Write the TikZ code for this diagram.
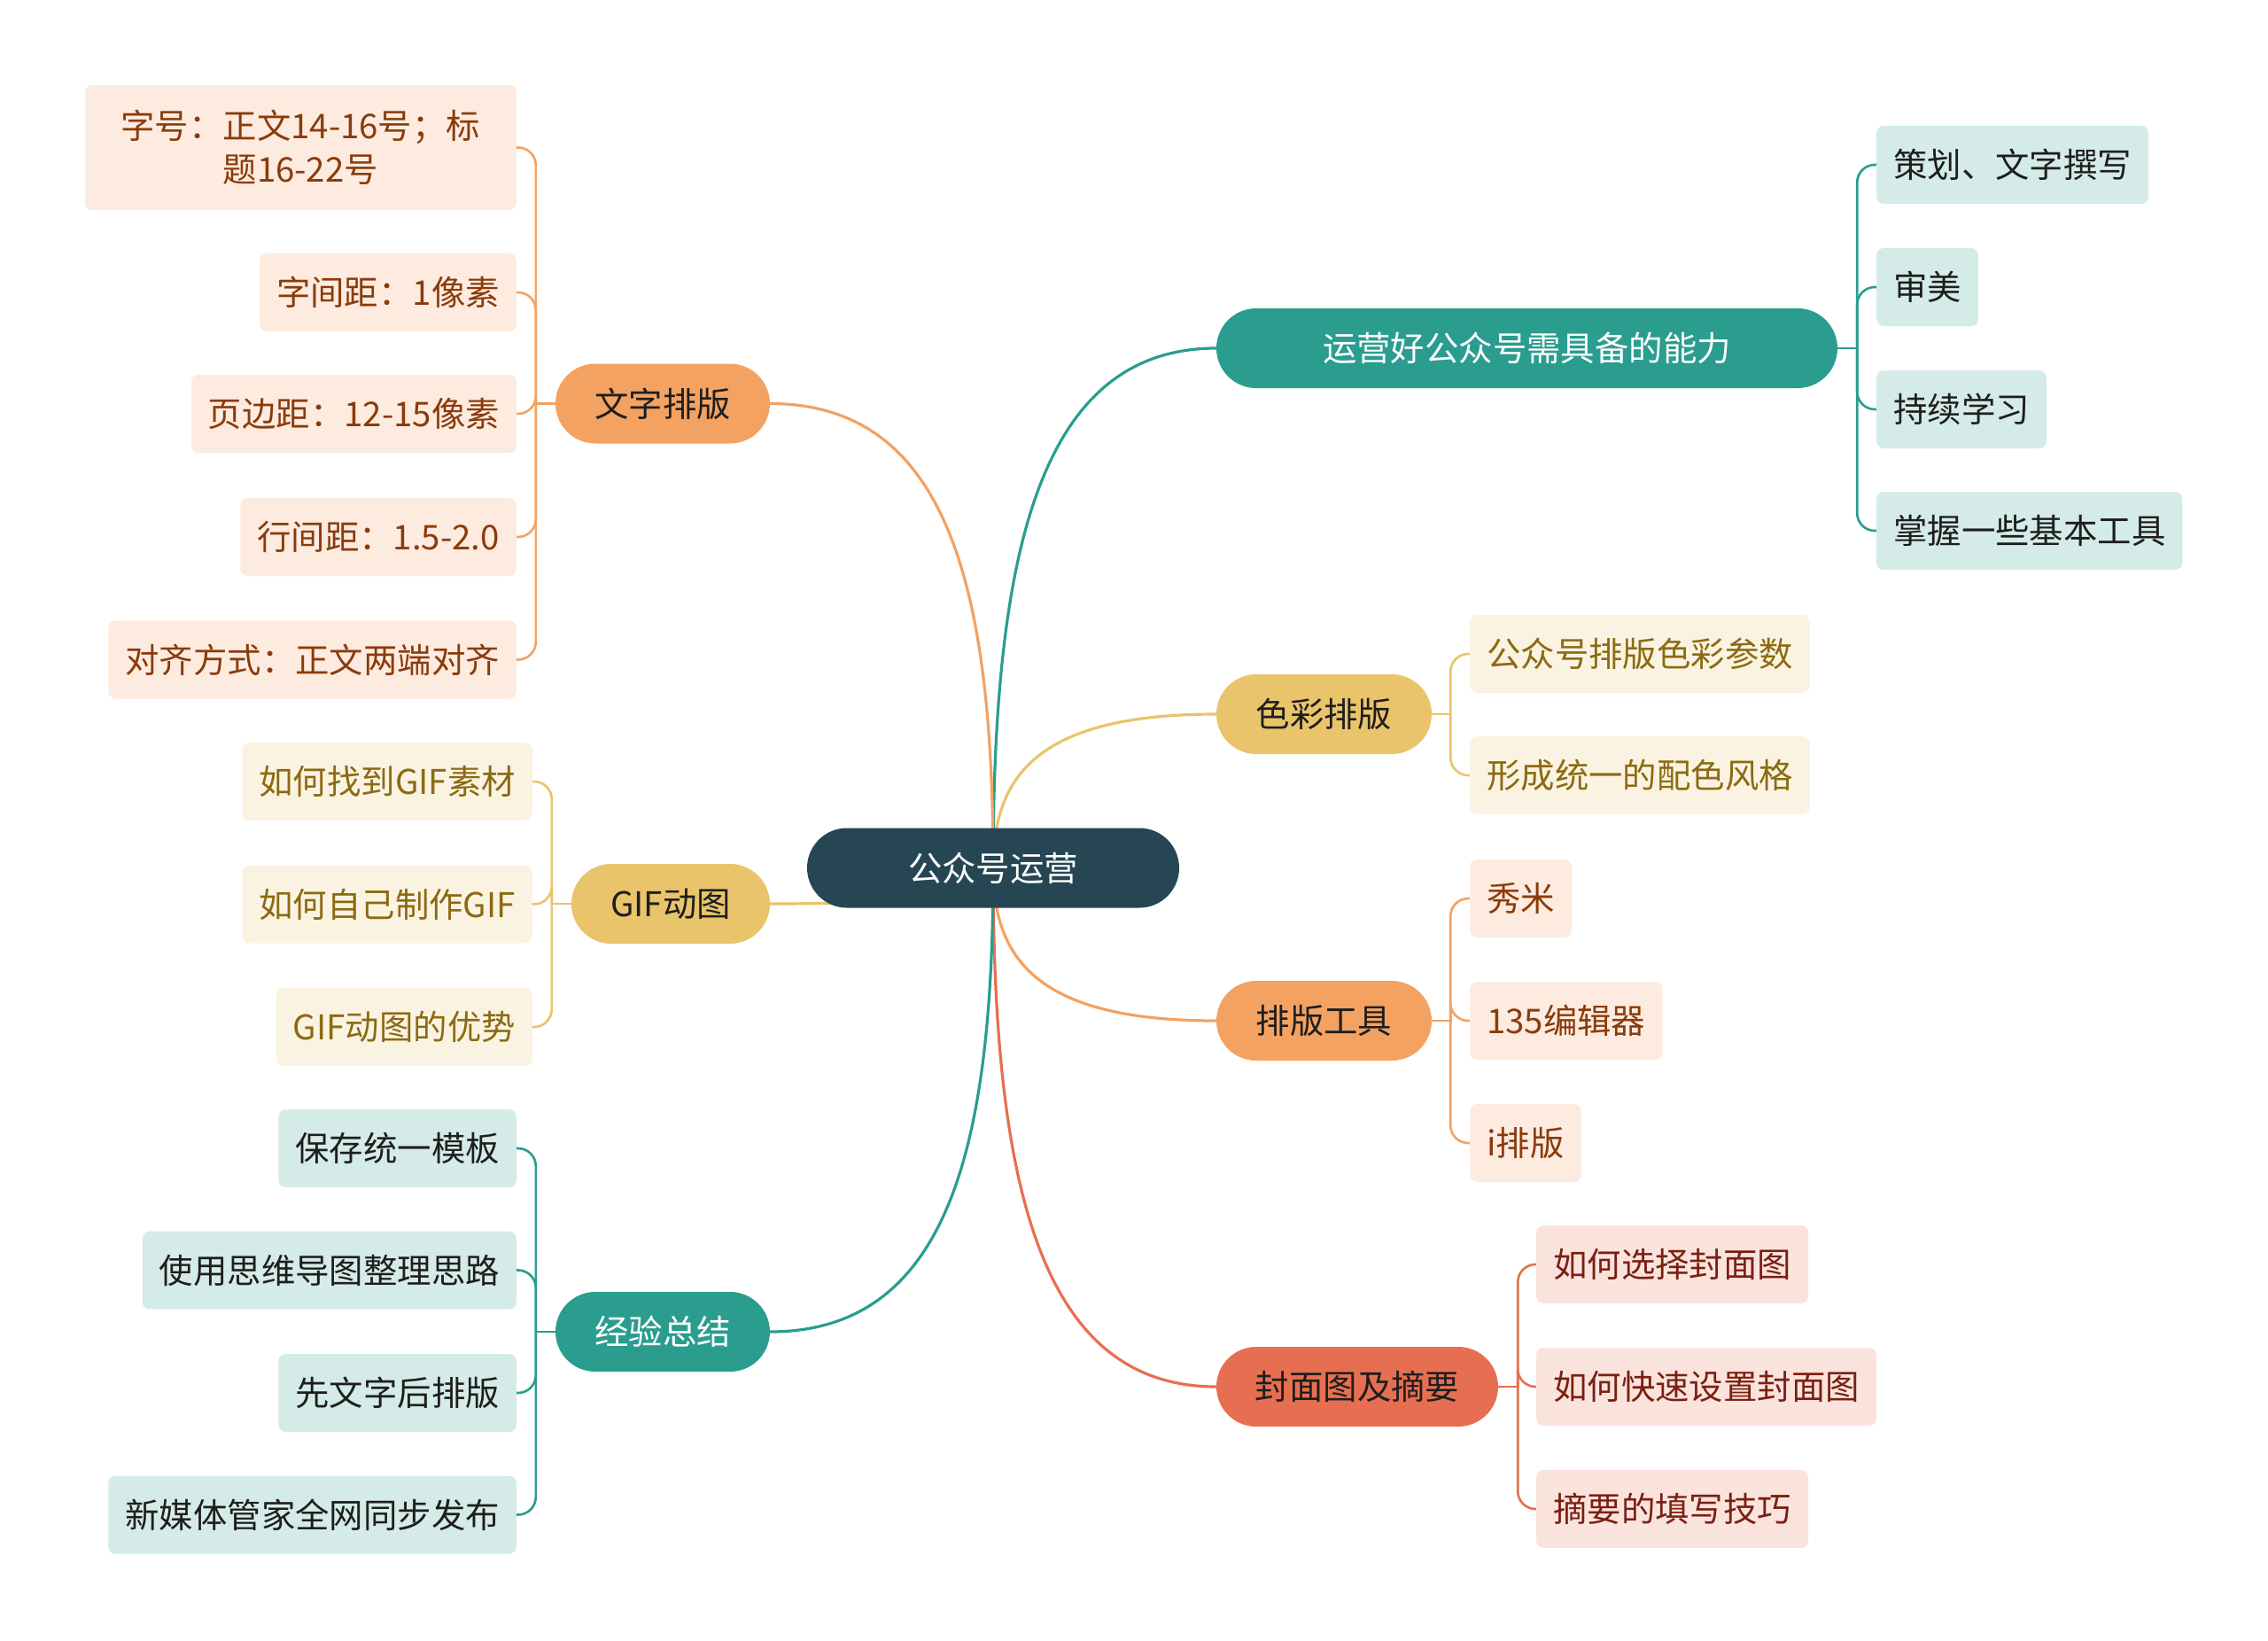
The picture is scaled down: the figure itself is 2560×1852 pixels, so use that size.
\documentclass[tikz,border=0pt]{standalone}
\usepackage{fontspec}
\setmainfont{Noto Sans CJK SC}
\usetikzlibrary{calc}
\definecolor{rootc}{HTML}{264653}
\definecolor{tealc}{HTML}{2A9D8F}
\definecolor{teall}{HTML}{D5EBE7}
\definecolor{orc}{HTML}{F4A261}
\definecolor{orl}{HTML}{FDEBDF}
\definecolor{ort}{HTML}{8A3B0C}
\definecolor{yec}{HTML}{E9C46A}
\definecolor{yel}{HTML}{FBF3E1}
\definecolor{yet}{HTML}{8B6A12}
\definecolor{rec}{HTML}{E76F51}
\definecolor{rel}{HTML}{FAE3DD}
\definecolor{ret}{HTML}{7B1F12}
\definecolor{darkt}{HTML}{1E1E1E}
\pgfdeclarelayer{back}
\pgfdeclarelayer{bg}
\pgfsetlayers{back,bg,main}
\tikzset{
  base/.style={font=\fontsize{38.4}{49}\selectfont, inner ysep=0pt, align=center},
  leaf/.style={base, rounded corners=8pt, inner xsep=19pt, minimum height=88pt},
  branch/.style={base, rounded corners=45pt, inner xsep=0pt, minimum height=90pt},
  mainlink/.style={line width=3.2pt},
  leaflink/.style={line width=2.6pt, rounded corners=20pt},
}
\begin{document}
\begin{tikzpicture}[x=1pt,y=-1pt]
\begin{pgfonlayer}{back}
\fill[white] (0,0) rectangle (2560,1852);
\end{pgfonlayer}
\useasboundingbox (0,0) rectangle (2560,1852);

% root
\node[branch, fill=rootc, text=white, minimum width=420pt] (root) at (1121,979.5) {公众号运营};

% left branches
\node[branch, fill=orc, text=darkt, minimum width=242pt] (wz) at (748,455.5) {文字排版};
\node[branch, fill=yec, text=darkt, minimum width=224pt] (gif) at (757,1020) {GIF动图};
\node[branch, fill=tealc, text=white, minimum width=242pt] (jy) at (748,1503) {经验总结};

% right branches
\node[branch, fill=tealc, text=white, minimum width=701pt] (nl) at (1723.5,393) {运营好公众号需具备的能力};
\node[branch, fill=yec, text=darkt, minimum width=243pt] (sc) at (1494.5,806) {色彩排版};
\node[branch, fill=orc, text=darkt, minimum width=243pt] (gj) at (1494.5,1152) {排版工具};
\node[branch, fill=rec, text=darkt, minimum width=318pt] (fm) at (1532,1565) {封面图及摘要};

% leaves: 文字排版
\node[leaf, fill=orl, text=ort, anchor=east, minimum height=141pt, minimum width=487pt] (wz1) at (583,166.5) {字号：正文14-16号；标\\题16-22号};
\node[leaf, fill=orl, text=ort, anchor=east] (wz2) at (583,330) {字间距：1像素};
\node[leaf, fill=orl, text=ort, anchor=east] (wz3) at (583,467) {页边距：12-15像素};
\node[leaf, fill=orl, text=ort, anchor=east] (wz4) at (583,606) {行间距：1.5-2.0};
\node[leaf, fill=orl, text=ort, anchor=east] (wz5) at (583,744.5) {对齐方式：正文两端对齐};

% leaves: GIF
\node[leaf, fill=yel, text=yet, anchor=east] (gif1) at (601,882) {如何找到GIF素材};
\node[leaf, fill=yel, text=yet, anchor=east] (gif2) at (601,1020.5) {如何自己制作GIF};
\node[leaf, fill=yel, text=yet, anchor=east] (gif3) at (601,1159) {GIF动图的优势};

% leaves: 经验总结
\node[leaf, fill=teall, text=darkt, anchor=east] (jy1) at (583,1296) {保存统一模板};
\node[leaf, fill=teall, text=darkt, anchor=east] (jy2) at (583,1433.5) {使用思维导图整理思路};
\node[leaf, fill=teall, text=darkt, anchor=east] (jy3) at (583,1572) {先文字后排版};
\node[leaf, fill=teall, text=darkt, anchor=east] (jy4) at (583,1709.5) {新媒体管家全网同步发布};

% leaves: 能力
\node[leaf, fill=teall, text=darkt, anchor=west] (nl1) at (2118,186) {策划、文字撰写};
\node[leaf, fill=teall, text=darkt, anchor=west] (nl2) at (2118,324) {审美};
\node[leaf, fill=teall, text=darkt, anchor=west] (nl3) at (2118,462) {持续学习};
\node[leaf, fill=teall, text=darkt, anchor=west] (nl4) at (2118,599) {掌握一些基本工具};

% leaves: 色彩排版
\node[leaf, fill=yel, text=yet, anchor=west] (sc1) at (1659,738) {公众号排版色彩参数};
\node[leaf, fill=yel, text=yet, anchor=west] (sc2) at (1659,875) {形成统一的配色风格};

% leaves: 排版工具
\node[leaf, fill=orl, text=ort, anchor=west] (gj1) at (1659,1014) {秀米};
\node[leaf, fill=orl, text=ort, anchor=west] (gj2) at (1659,1152) {135编辑器};
\node[leaf, fill=orl, text=ort, anchor=west] (gj3) at (1659,1290) {i排版};

% leaves: 封面图
\node[leaf, fill=rel, text=ret, anchor=west] (fm1) at (1734,1427) {如何选择封面图};
\node[leaf, fill=rel, text=ret, anchor=west] (fm2) at (1734,1565) {如何快速设置封面图};
\node[leaf, fill=rel, text=ret, anchor=west] (fm3) at (1734,1703) {摘要的填写技巧};

\begin{pgfonlayer}{bg}
% main connectors
\foreach \b/\a/\c in {nl/west/tealc, sc/west/yec, gj/west/orc, fm/west/rec, wz/east/orc, gif/east/yec, jy/east/tealc}{
  \draw[mainlink, \c] (root.center) .. controls ($(root.center)!0.6!(root.center |- \b.\a)$) and ($(root.center |- \b.\a)!0.2!(\b.\a)$) .. (\b.\a);
}
% leaf connectors, right side
\draw[mainlink, tealc, line width=2.6pt] (nl.east) -- ++(22,0) coordinate (tnl);
\foreach \l in {nl1,nl2,nl3,nl4} \draw[leaflink, tealc] (tnl) |- (\l.west);
\draw[mainlink, yec, line width=2.6pt] (sc.east) -- ++(21,0) coordinate (tsc);
\foreach \l in {sc1,sc2} \draw[leaflink, yec] (tsc) |- (\l.west);
\draw[mainlink, orc, line width=2.6pt] (gj.east) -- ++(21,0) coordinate (tgj);
\foreach \l in {gj1,gj2,gj3} \draw[leaflink, orc] (tgj) |- (\l.west);
\draw[mainlink, rec, line width=2.6pt] (fm.east) -- ++(22,0) coordinate (tfm);
\foreach \l in {fm1,fm2,fm3} \draw[leaflink, rec] (tfm) |- (\l.west);
% leaf connectors, left side
\draw[mainlink, orc, line width=2.6pt] (wz.west) -- ++(-22,0) coordinate (twz);
\foreach \l in {wz1,wz2,wz3,wz4,wz5} \draw[leaflink, orc] (twz) |- (\l.east);
\draw[mainlink, yec, line width=2.6pt] (gif.west) -- ++(-22,0) coordinate (tgif);
\foreach \l in {gif1,gif2,gif3} \draw[leaflink, yec] (tgif) |- (\l.east);
\draw[mainlink, tealc, line width=2.6pt] (jy.west) -- ++(-22,0) coordinate (tjy);
\foreach \l in {jy1,jy2,jy3,jy4} \draw[leaflink, tealc] (tjy) |- (\l.east);
\end{pgfonlayer}
\end{tikzpicture}
\end{document}
